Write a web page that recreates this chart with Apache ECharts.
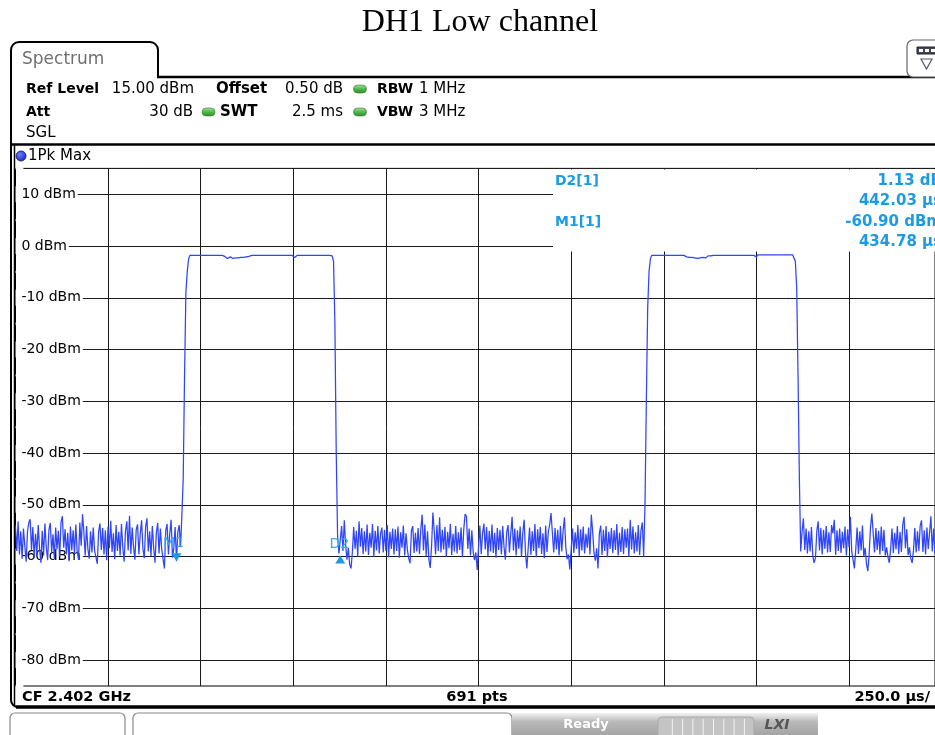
<!DOCTYPE html>
<html>
<head>
<meta charset="utf-8">
<script src="https://cdn.jsdelivr.net/npm/echarts@6/dist/echarts.min.js"></script>
<style>
  html, body { margin: 0; padding: 0; background: #fff; }
  #chart { width: 935px; height: 735px; }
</style>
</head>
<body>
<div id="chart"></div>
<script>
// ---- sweep settings ----
const titleText = 'DH1 Low channel';
const sweepTimeUs = 2500;        // 10 divisions x 250 us
const visibleSpanUs = 2482;      // part of the sweep that fits in the window
const sweepPoints = 691;
const levelMin = -85, levelMax = 15;
const yTickLevels = [10, 0, -10, -20, -30, -40, -50, -60, -70, -80];

// ---- trace levels (dBm), one per sweep point, in sweep order ----
const noiseA = [
  -54.0, -58.9, -53.2, -59.6, -55.1, -60.4, -54.6, -57.9, -61.0, -55.2,
  -53.4, -52.8, -58.7, -54.3, -60.2, -55.6, -59.4, -53.9, -58.5, -61.2,
  -55.0, -59.8, -53.6, -58.1, -60.7, -54.8, -53.5, -59.1, -55.7, -60.3,
  -54.4, -58.6, -55.0, -60.0, -53.3, -52.2, -58.3, -54.7, -59.6, -55.4,
  -60.9, -54.2, -58.8, -54.9, -59.4, -53.8, -58.9, -60.6, -53.4, -57.9,
  -51.8, -55.3, -59.8, -54.1, -58.5, -60.4, -55.1, -59.2, -54.4, -58.9,
  -60.1, -61.4, -55.2, -53.6, -58.7, -54.5, -59.6, -54.9, -60.7, -54.2,
  -58.4, -53.1, -59.1, -55.5, -60.5, -53.9, -58.9, -55.2, -59.8, -53.7,
  -58.2, -61.0, -55.0, -53.2, -58.8, -52.1, -59.5, -54.4, -58.1, -60.6,
  -54.8, -53.8, -59.6, -55.6, -53.0, -58.5, -60.3, -54.3, -52.6, -59.0,
  -55.1, -59.9, -54.1, -58.3, -61.2, -55.4, -53.5, -59.4, -54.6, -58.6,
  -60.5, -62.3, -55.0, -53.7, -59.6, -55.5, -52.9, -60.2, -58.4, -54.3,
  -60.9, -55.2, -53.9, -58.2
];
const riseA = [-52.0, -45.0, -25.0, -9.0, -5.0, -2.5];
const burstA = [
  -1.8, -1.8, -1.8, -1.8, -1.8, -1.8, -1.8, -1.8, -1.8, -1.8,
  -1.8, -1.8, -1.8, -1.8, -1.8, -1.8, -1.8, -1.8, -1.8, -1.8,
  -1.8, -1.8, -1.8, -1.8, -1.8, -1.9, -2.0, -2.2, -2.4, -2.3,
  -2.1, -2.2, -2.4, -2.5, -2.3, -2.1, -2.3, -2.4, -2.2, -2.0,
  -2.2, -2.3, -2.1, -1.9, -2.0, -1.9, -1.8, -1.8, -1.8, -1.8,
  -1.8, -1.8, -1.8, -1.8, -1.8, -1.8, -1.8, -1.8, -1.8, -1.8,
  -1.8, -1.8, -1.8, -1.8, -1.8, -1.8, -1.8, -1.8, -1.8, -1.8,
  -1.8, -1.8, -1.8, -1.8, -1.8, -1.8, -1.8, -1.9, -2.2, -1.9,
  -1.8, -1.8, -1.8, -1.8, -1.8, -1.8, -1.8, -1.8, -1.8, -1.8,
  -1.8, -1.8, -1.8, -1.8, -1.8, -1.8, -1.8, -1.8, -1.8, -1.8,
  -1.8, -1.8, -1.8, -1.8, -1.8, -1.8, -1.9
];
const fallA = [-3.0, -15.0, -40.0];
const noiseB = [
  -56.0, -59.4, -59.77, -54.1, -58.9, -53.0, -57.8, -60.6, -58.3, -61.5,
  -62.3, -59.2, -54.3, -58.5, -55.0, -59.9, -53.2, -58.1, -54.5, -59.5,
  -55.1, -59.0, -53.8, -59.7, -55.4, -58.3, -53.7, -60.0, -55.0, -58.8,
  -54.1, -59.4, -55.6, -54.4, -59.2, -54.8, -58.9, -53.9, -60.1, -55.2,
  -58.5, -54.6, -59.6, -54.7, -58.9, -54.2, -60.2, -55.3, -58.3, -54.0,
  -59.8, -55.5, -58.7, -60.4, -61.3, -55.0, -54.1, -59.3, -55.4, -59.0,
  -54.5, -59.5, -54.7, -51.9, -58.8, -53.8, -59.9, -55.1, -60.5, -62.2,
  -58.1, -51.5, -55.0, -59.6, -53.9, -58.9, -52.4, -59.2, -54.8, -58.6,
  -54.3, -60.0, -55.2, -58.4, -53.7, -59.7, -55.6, -59.0, -54.1, -59.4,
  -55.3, -58.7, -54.4, -60.1, -54.7, -51.8, -52.2, -58.5, -54.6, -59.8,
  -54.9, -59.1, -60.7, -59.2, -62.6, -58.3, -54.0, -59.5, -55.5, -53.6,
  -58.6, -54.3, -59.9, -55.0, -59.0, -53.8, -59.3, -55.4, -60.2, -54.5,
  -58.7, -54.8, -59.6, -54.1, -58.2, -60.6, -55.2, -53.9, -59.2, -55.6,
  -52.3, -58.8, -54.6, -59.8, -54.9, -58.5, -54.2, -60.0, -55.3, -52.9,
  -59.4, -62.3, -58.3, -54.4, -59.7, -55.1, -58.9, -53.7, -60.1, -54.7,
  -58.4, -54.3, -59.5, -55.5, -60.3, -54.0, -59.1, -55.2, -53.8, -51.6,
  -55.4, -59.2, -54.5, -58.6, -54.8, -59.8, -54.1, -59.0, -55.0, -52.4,
  -58.2, -60.5, -59.6, -62.5, -58.7, -54.6, -59.3, -55.3, -58.5, -53.9,
  -59.9, -54.7, -58.8, -54.2, -59.4, -55.6, -58.3, -54.4, -59.6, -51.9,
  -55.1, -59.2, -60.8, -58.4, -62.3, -55.5, -54.0, -59.7, -54.8, -58.9,
  -54.1, -60.1, -55.2, -58.5, -54.5, -59.3, -54.9, -58.7, -53.7, -59.8,
  -55.4, -59.1, -54.3, -59.5, -54.7, -58.3, -54.6, -60.0, -52.9, -58.6,
  -54.2, -59.4, -55.3, -59.0, -53.9, -59.7, -55.0, -53.4
];
const riseB = [-60.0, -50.0, -30.0, -12.0, -5.0, -2.5];
const burstB = [
  -1.8, -1.8, -1.8, -1.8, -1.8, -1.8, -1.8, -1.8, -1.8, -1.8,
  -1.8, -1.8, -1.8, -1.8, -1.8, -1.8, -1.8, -1.8, -1.8, -1.8,
  -1.8, -1.8, -1.8, -1.8, -1.8, -1.9, -2.1, -2.3, -2.2, -2.4,
  -2.2, -2.0, -2.3, -2.1, -2.4, -2.2, -2.3, -2.0, -2.2, -2.1,
  -2.3, -2.0, -1.9, -2.1, -1.9, -1.8, -1.8, -1.8, -1.8, -1.8,
  -1.8, -1.8, -1.8, -1.8, -1.8, -1.8, -1.8, -1.8, -1.8, -1.8,
  -1.8, -1.8, -1.8, -1.8, -1.8, -1.8, -1.8, -1.8, -1.8, -1.8,
  -1.8, -1.8, -1.8, -1.8, -1.8, -1.8, -1.8, -1.9, -2.1, -1.7,
  -1.7, -1.7, -1.7, -1.7, -1.7, -1.7, -1.7, -1.7, -1.7, -1.7,
  -1.7, -1.7, -1.7, -1.7, -1.7, -1.7, -1.7, -1.7, -1.7, -1.7,
  -1.7, -1.7, -1.7, -1.7, -1.7, -1.7, -1.8
];
const fallB = [-3.0, -8.0, -25.0, -45.0];
const noiseC = [
  -59.0, -55.2, -52.6, -58.7, -54.6, -59.4, -55.1, -59.0, -54.3, -59.9,
  -61.2, -60.2, -55.0, -53.2, -58.8, -54.5, -59.6, -54.8, -58.5, -54.1,
  -59.2, -55.3, -59.1, -53.9, -55.5, -52.9, -59.7, -54.9, -58.9, -54.6,
  -59.3, -55.2, -58.4, -54.2, -59.8, -54.7, -58.2, -52.3, -59.0, -60.6,
  -62.3, -58.6, -54.4, -59.5, -55.1, -58.8, -54.0, -60.0, -58.3, -61.4,
  -62.8, -59.4, -54.3, -51.7, -55.6, -59.2, -54.5, -58.7, -55.0, -59.6,
  -54.2, -58.9, -54.8, -59.8, -58.2, -60.1, -61.2, -58.5, -54.6, -59.3,
  -55.4, -58.6, -54.1, -59.5, -55.2, -59.1, -53.8, -52.3, -58.4, -54.7,
  -59.7, -58.2, -60.4, -61.2, -58.8, -54.5, -59.2, -55.1, -58.9, -54.0,
  -53.0, -59.1, -54.9, -59.6, -54.4, -58.5, -55.3, -52.2, -59.0, -54.6,
  -59.4, -55.0, -58.7, -54.3, -59.2, -55.5
];

// ---- markers ----
const markerM1 = [434.78, -60.90];   // [time us, level dBm]
const deltaD2 = [442.03, 1.13];      // [delta time us, delta level dB]

// ---- build trace ----
const levels = [].concat(noiseA, riseA, burstA, fallA, noiseB, riseB, burstB, fallB, noiseC);
const dt = sweepTimeUs / (sweepPoints - 1);
const trace = levels.map((v, i) => [i * dt, v]);
const markerD2 = [markerM1[0] + deltaD2[0], markerM1[1] + deltaD2[1]];

const FONT = 'DejaVu Sans';
const MARK_BLUE = '#1c9be3';

function txt(x, y, s, o) {
  o = o || {};
  return {
    type: 'text', x: x, y: y, z: 30, silent: true,
    style: {
      text: s,
      fontFamily: o.family || FONT,
      fontSize: o.size || 14,
      fontWeight: o.bold ? 'bold' : 'normal',
      fontStyle: o.italic ? 'italic' : 'normal',
      fill: o.color || '#000',
      align: o.align || 'left', textAlign: o.align || 'left',
      verticalAlign: 'middle', textVerticalAlign: 'middle'
    }
  };
}
function line(x1, y1, x2, y2, w, c, z) {
  return { type: 'line', z: z || 25, silent: true,
    shape: { x1: x1, y1: y1, x2: x2, y2: y2 },
    style: { stroke: c || '#000', lineWidth: w || 1 } };
}
function corner(cx, cy, r, a0, a1) {
  return { type: 'arc', z: 25, silent: true,
    shape: { cx: cx, cy: cy, r: r, startAngle: a0, endAngle: a1, clockwise: true },
    style: { stroke: '#000', lineWidth: 2, fill: null } };
}
function greenDot(cx, cy) {
  return { type: 'rect', z: 30, silent: true,
    shape: { x: cx - 6.5, y: cy - 4, width: 13, height: 8, r: 4 },
    style: { fill: new echarts.graphic.LinearGradient(0, 0, 0, 1, [
      { offset: 0, color: '#a8e0a0' }, { offset: 0.5, color: '#4fb848' }, { offset: 1, color: '#2f8a2a' }]),
      stroke: '#3c7a36', lineWidth: 0.6 } };
}

const graphics = [
  // title
  txt(480, 23, titleText, { family: 'Liberation Serif', size: 32, align: 'center' }),
  // tab outline and panel border
  line(19, 42, 150, 42, 2),
  corner(19, 50, 8, Math.PI, Math.PI * 1.5),
  corner(150, 50, 8, Math.PI * 1.5, Math.PI * 2),
  line(158, 50, 158, 77, 2),
  line(11, 50, 11, 700, 2),
  corner(18, 700, 7, Math.PI * 0.5, Math.PI),
  line(157, 77, 935, 77, 2.5),
  txt(22, 60, 'Spectrum', { size: 17, color: '#6f6f6f' }),
  // header info
  txt(26, 89, 'Ref Level', { bold: true }),
  txt(194, 89, '15.00 dBm', { align: 'right', size: 15 }),
  txt(216, 89, 'Offset', { bold: true, size: 15 }),
  txt(343, 89, '0.50 dB', { align: 'right', size: 15 }),
  greenDot(360, 89),
  txt(377, 89, 'RBW', { bold: true }),
  txt(419, 89, '1 MHz', { size: 15 }),
  txt(26, 112, 'Att', { bold: true }),
  txt(193, 112, '30 dB', { align: 'right', size: 15 }),
  greenDot(208.5, 112),
  txt(220, 112, 'SWT', { bold: true, size: 15 }),
  txt(343, 112, '2.5 ms', { align: 'right', size: 15 }),
  greenDot(360, 112),
  txt(377, 112, 'VBW', { bold: true }),
  txt(419, 112, '3 MHz', { size: 15 }),
  txt(26, 133, 'SGL', { size: 15 }),
  // diagram frame
  line(11, 144.5, 935, 144.5, 2.5),
  line(14.5, 145, 14.5, 706, 1.5),
  { type: 'circle', z: 30, silent: true, shape: { cx: 21, cy: 156, r: 5 },
    style: { fill: new echarts.graphic.RadialGradient(0.4, 0.35, 0.7, [
      { offset: 0, color: '#6a7dff' }, { offset: 1, color: '#1024d0' }]), stroke: '#101060', lineWidth: 0.8 } },
  txt(28, 156, '1Pk Max', { size: 15 }),
  // marker info area
  { type: 'rect', z: 5, silent: true, shape: { x: 553, y: 169.5, width: 400, height: 82 },
    style: { fill: '#fff' } },
  txt(555, 181, 'D2[1]', { bold: true, color: MARK_BLUE }),
  txt(942, 181, deltaD2[1].toFixed(2) + ' dB', { bold: true, color: MARK_BLUE, align: 'right', size: 15 }),
  txt(942, 201, deltaD2[0].toFixed(2) + ' µs', { bold: true, color: MARK_BLUE, align: 'right', size: 15 }),
  txt(555, 222, 'M1[1]', { bold: true, color: MARK_BLUE }),
  txt(942, 222, markerM1[1].toFixed(2) + ' dBm', { bold: true, color: MARK_BLUE, align: 'right', size: 15 }),
  txt(942, 242, markerM1[0].toFixed(2) + ' µs', { bold: true, color: MARK_BLUE, align: 'right', size: 15 }),
  // footer of diagram
  txt(22, 697, 'CF 2.402 GHz', { bold: true, size: 14.5 }),
  txt(477, 697, sweepPoints + ' pts', { bold: true, align: 'center', size: 14.5 }),
  txt(930, 697, (sweepTimeUs / 10).toFixed(1) + ' µs/', { bold: true, align: 'right', size: 14.5 }),
  line(16, 707, 935, 707, 3.5),
  // top-right toolbar button
  { type: 'rect', z: 25, silent: true, shape: { x: 907, y: 40, width: 40, height: 37, r: 6 },
    style: { fill: '#fff', stroke: '#666', lineWidth: 1.2 } },
  { type: 'rect', z: 26, silent: true, shape: { x: 917, y: 47, width: 22, height: 7 },
    style: { fill: '#445', stroke: '#223', lineWidth: 1 } },
  { type: 'rect', z: 27, silent: true, shape: { x: 919, y: 49, width: 4, height: 3 }, style: { fill: '#fff' } },
  { type: 'rect', z: 27, silent: true, shape: { x: 925, y: 49, width: 4, height: 3 }, style: { fill: '#fff' } },
  { type: 'rect', z: 27, silent: true, shape: { x: 931, y: 49, width: 4, height: 3 }, style: { fill: '#fff' } },
  { type: 'polygon', z: 26, silent: true, shape: { points: [[921, 59], [932, 59], [926.5, 69]] },
    style: { fill: '#fff', stroke: '#556', lineWidth: 1.2 } },
  // status bar
  { type: 'rect', z: 20, silent: true, shape: { x: 10, y: 713, width: 115, height: 30, r: [5, 5, 0, 0] },
    style: { fill: '#fff', stroke: '#8a8a8a', lineWidth: 1.2 } },
  { type: 'rect', z: 20, silent: true, shape: { x: 133, y: 713, width: 379, height: 30, r: [5, 5, 0, 0] },
    style: { fill: '#fff', stroke: '#8a8a8a', lineWidth: 1.2 } },
  { type: 'rect', z: 20, silent: true, shape: { x: 512, y: 713, width: 306, height: 25 },
    style: { fill: new echarts.graphic.LinearGradient(0, 0, 0, 1, [
      { offset: 0, color: '#f2f2f2' }, { offset: 0.35, color: '#b9b9b9' }, { offset: 1, color: '#a0a0a0' }]) } },
  txt(586, 725, 'Ready', { bold: true, color: '#fff', align: 'center', size: 13 }),
  { type: 'rect', z: 21, silent: true, shape: { x: 658, y: 717, width: 96, height: 22, r: 4 },
    style: { fill: '#c4c4c4', stroke: '#a8a8a8', lineWidth: 1 } },
  txt(777, 725, 'LXI', { bold: true, italic: true, color: '#555', align: 'center', size: 14 })
];
// progress bar segments
for (let k = 1; k < 9; k++) {
  graphics.push(line(662 + k * 10.3, 719, 662 + k * 10.3, 737, 1, '#f4f4f4', 22));
}

const chart = echarts.init(document.getElementById('chart'), null, { renderer: 'canvas' });
chart.setOption({
  animation: false,
  backgroundColor: '#fff',
  grid: {
    left: 15.4, top: 168.4, right: 0, bottom: 49,
    show: true, borderColor: '#000', borderWidth: 1, backgroundColor: 'transparent'
  },
  xAxis: {
    type: 'value', min: 0, max: visibleSpanUs, interval: sweepTimeUs / 10,
    axisLine: { show: false }, axisTick: { show: false }, axisLabel: { show: false },
    splitLine: { show: true, showMaxLine: false, lineStyle: { color: '#1a1a1a', width: 1 } }
  },
  yAxis: {
    type: 'value', min: levelMin, max: levelMax, interval: 5,
    axisLine: { show: true, lineStyle: { color: '#000', width: 1 } },
    axisTick: { show: false },
    axisLabel: {
      inside: true, margin: 0,
      fontFamily: FONT, fontSize: 14, color: '#000',
      backgroundColor: '#fff', padding: [1, 2, 1, 6],
      formatter: v => (yTickLevels.indexOf(v) >= 0 ? v + ' dBm' : '')
    },
    splitLine: { show: true, lineStyle: { color: ['rgba(0,0,0,0)', '#1a1a1a'], width: 1 } }
  },
  series: [{
    type: 'line',
    data: trace,
    showSymbol: false,
    clip: true,
    lineStyle: { color: '#2e44ff', width: 1.25 },
    markPoint: {
      silent: true,
      data: [
        { name: 'M1', coord: markerM1, symbol: 'triangle', symbolSize: [10, 8], symbolRotate: 180,
          symbolOffset: [0, -4],
          label: { show: true, formatter: 'M1', position: 'top', distance: 3, offset: [-3, 0] } },
        { name: 'D2', coord: markerD2, symbol: 'triangle', symbolSize: [10, 8], symbolRotate: 0,
          symbolOffset: [0, 4],
          label: { show: true, formatter: 'D2', position: 'top', distance: 4, offset: [-1, 0] } }
      ],
      itemStyle: { color: MARK_BLUE },
      label: { color: '#39a9ee', fontFamily: FONT, fontSize: 14 }
    }
  }],
  graphic: { elements: graphics }
});
</script>
</body>
</html>
